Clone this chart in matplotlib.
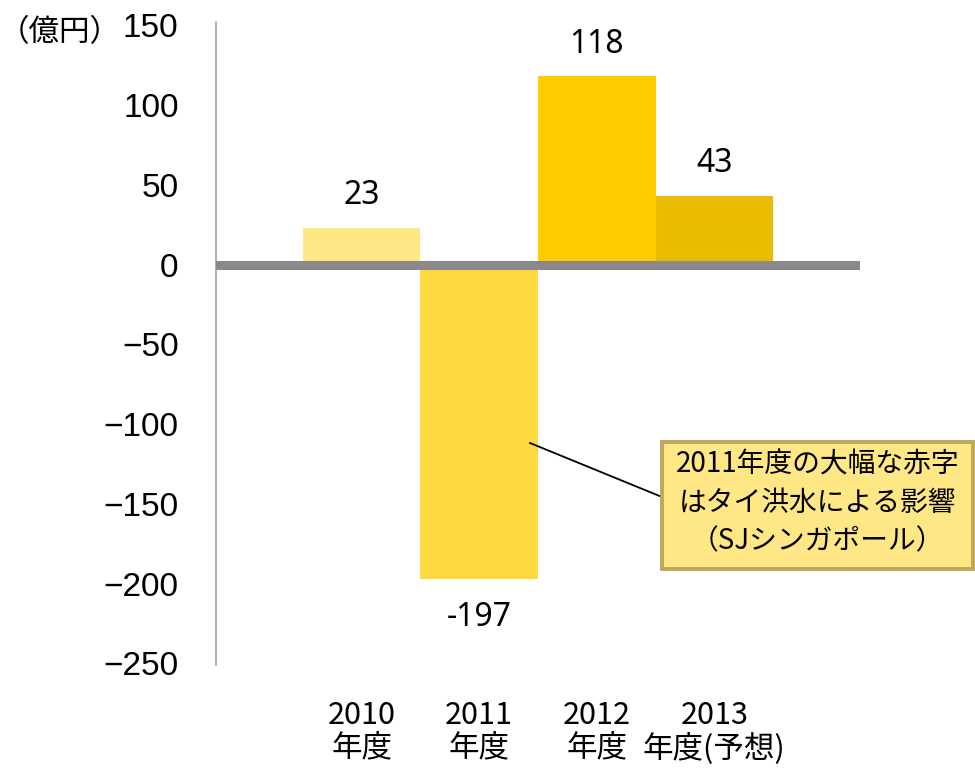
import matplotlib
matplotlib.use("Agg")
import matplotlib.pyplot as plt
from matplotlib.patches import Rectangle
from matplotlib.lines import Line2D

categories = ["2010\n年度", "2011\n年度", "2012\n年度", "2013\n年度(予想)"]
values = [23, -197, 118, 43]
value_labels = ["23", "-197", "118", "43"]
colors = ["#FFE786", "#FFD940", "#FFCC00", "#E8BD00"]
yticks = [150, 100, 50, 0, -50, -100, -150, -200, -250]
unit_label = "（億円）"
note = "2011年度の大幅な赤字\nはタイ洪水による影響\n（SJシンガポール）"

JP = ["Noto Sans CJK JP", "DejaVu Sans"]

W, H = 975, 768
fig = plt.figure(figsize=(W / 100, H / 100), dpi=100)
ax = fig.add_axes([216 / W, 1 - 665 / H, (860 - 216) / W, (665 - 22) / H])

x = list(range(len(values)))
ax.bar(x, values, width=1.0, color=colors, zorder=2)
ax.axhline(0, color="#898989", lw=6.5, zorder=3)

ax.set_xlim(-1.24, 4.24)
ax.set_ylim(-251, 152)
ax.set_yticks(yticks)
ax.set_yticklabels([f"{v}".replace("-", "\u2212") for v in yticks],
                   fontsize=24, family=["Liberation Sans", "DejaVu Sans"])
ax.tick_params(axis="y", length=0, pad=27)
ax.set_xticks(x)
ax.set_xticklabels(categories, fontsize=22, family=JP, linespacing=1.08)
ax.tick_params(axis="x", length=0, pad=25)

for s in ["top", "right", "bottom"]:
    ax.spines[s].set_visible(False)
ax.spines["left"].set_color("#A6A6A6")
ax.spines["left"].set_linewidth(1.2)

for xi, v, lab in zip(x, values, value_labels):
    off = 23 if v >= 0 else -28
    ax.annotate(lab, (xi, v), xytext=(0, off), textcoords="offset points",
                ha="center", va="center", fontsize=23,
                family=["Noto Sans", "DejaVu Sans"])

fig.text(60 / W, 1 - 33 / H, unit_label, fontsize=22, family=JP,
         ha="center", va="center")

# callout
x0, x1, y0, y1 = 662, 973, 442, 569
fig.patches.append(Rectangle((x0 / W, 1 - y1 / H), (x1 - x0) / W, (y1 - y0) / H,
                             transform=fig.transFigure, facecolor="#FFE786",
                             edgecolor="#BFA75A", lw=2.8, zorder=5))
fig.lines.append(Line2D([530 / W, 662 / W], [1 - 443 / H, 1 - 497 / H],
                        transform=fig.transFigure, color="black", lw=1.3, zorder=4))
fig.text((x0 + x1) / 2 / W, 1 - 503 / H, note, fontsize=20, family=JP,
         ha="center", va="center", linespacing=1.35, zorder=6)

fig.savefig("out.png", dpi=100)
